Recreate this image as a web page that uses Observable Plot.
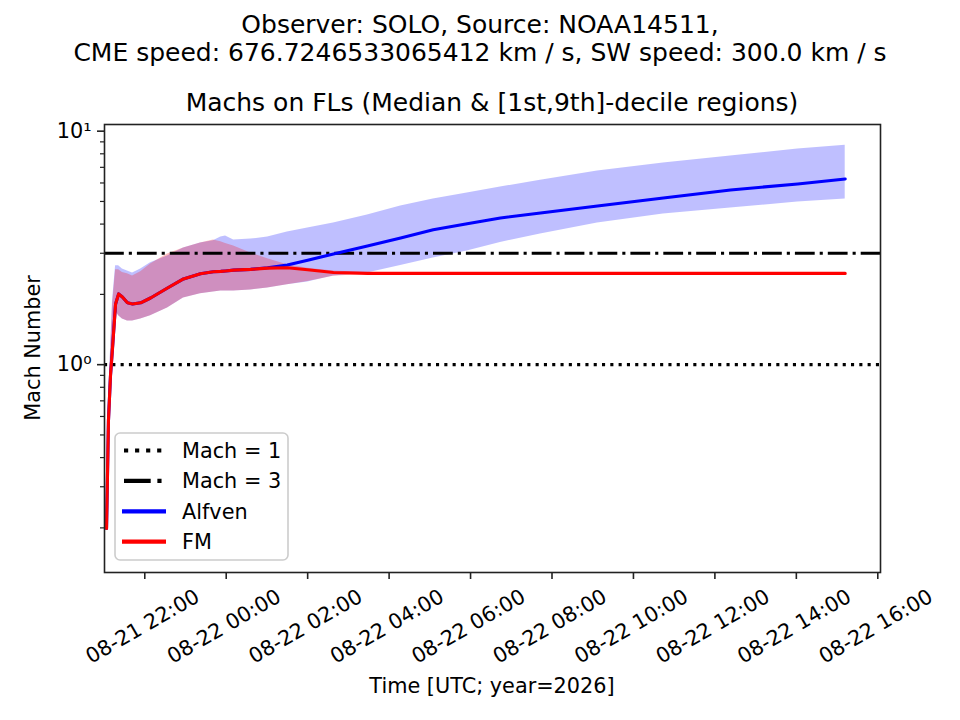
<!DOCTYPE html>
<html>
<head>
<meta charset="utf-8">
<script src="https://cdn.jsdelivr.net/npm/d3@7"></script>
<script src="https://cdn.jsdelivr.net/npm/@observablehq/plot@0.6"></script>
<style>
  html, body { margin: 0; padding: 0; background: #fff; }
  #wrap { width: 960px; height: 720px; position: relative; }
</style>
</head>
<body>
<div id="wrap"></div>
<script>
// ---- Data ----
const times = [
  "2026-08-21T21:03:40Z", "2026-08-21T21:06:30Z", "2026-08-21T21:09:30Z", "2026-08-21T21:12:30Z",
  "2026-08-21T21:17:00Z", "2026-08-21T21:21:30Z", "2026-08-21T21:27:00Z", "2026-08-21T21:34:30Z",
  "2026-08-21T21:42:00Z", "2026-08-21T21:54:00Z", "2026-08-21T22:08:30Z", "2026-08-21T22:33:30Z",
  "2026-08-21T22:57:00Z", "2026-08-21T23:22:00Z", "2026-08-21T23:41:00Z", "2026-08-21T23:52:00Z",
  "2026-08-21T23:59:00Z", "2026-08-22T00:11:00Z", "2026-08-22T00:36:00Z", "2026-08-22T01:01:00Z",
  "2026-08-22T01:30:00Z", "2026-08-22T02:00:00Z", "2026-08-22T02:38:00Z", "2026-08-22T03:28:00Z",
  "2026-08-22T04:17:00Z", "2026-08-22T05:05:00Z", "2026-08-22T05:55:00Z", "2026-08-22T06:44:00Z",
  "2026-08-22T07:43:00Z", "2026-08-22T09:07:00Z", "2026-08-22T10:44:00Z", "2026-08-22T12:23:00Z",
  "2026-08-22T14:02:00Z", "2026-08-22T15:12:00Z"
];
const alfvenMedian = [
  0.199, 0.576, 0.897, 1.18, 1.82, 2.01, 1.95, 1.84, 1.82, 1.84, 1.93, 2.13,
  2.33, 2.45, 2.50, 2.51, 2.52, 2.54, 2.56, 2.60, 2.67, 2.80, 2.98, 3.22,
  3.49, 3.78, 4.01, 4.25, 4.46, 4.78, 5.17, 5.60, 5.94, 6.24
];
const alfvenLow = [
  0.19, 0.497, 0.74, 1.04, 1.70, 1.62, 1.57, 1.54, 1.54, 1.57, 1.62, 1.75,
  1.93, 2.01, 2.05, 2.07, 2.07, 2.07, 2.09, 2.13, 2.20, 2.26, 2.40, 2.47,
  2.66, 2.86, 3.07, 3.34, 3.63, 4.04, 4.42, 4.69, 4.97, 5.12
];
const alfvenHigh = [
  0.21, 0.668, 1.15, 1.88, 2.65, 2.65, 2.57, 2.52, 2.47, 2.57, 2.73, 2.92,
  3.16, 3.32, 3.39, 3.52, 3.56, 3.42, 3.45, 3.52, 3.70, 3.85, 4.04, 4.37,
  4.78, 5.12, 5.43, 5.76, 6.17, 6.75, 7.30, 7.82, 8.38, 8.71
];
const fmMedian = [
  0.199, 0.576, 0.897, 1.18, 1.82, 2.01, 1.95, 1.84, 1.82, 1.84, 1.93, 2.13,
  2.33, 2.45, 2.50, 2.51, 2.52, 2.54, 2.56, 2.59, 2.60, 2.55, 2.48, 2.46,
  2.46, 2.46, 2.46, 2.46, 2.46, 2.46, 2.46, 2.46, 2.46, 2.46
];
const fmLow = [
  0.19, 0.497, 0.74, 1.04, 1.70, 1.62, 1.57, 1.54, 1.54, 1.57, 1.62, 1.75,
  1.93, 2.01, 2.05, 2.07, 2.07, 2.07, 2.09, 2.13, 2.20, 2.27, 2.39, 2.44,
  2.44, 2.44, 2.44, 2.44, 2.44, 2.44, 2.44, 2.44, 2.44, 2.44
];
const fmHigh = [
  0.205, 0.65, 1.12, 1.80, 2.55, 2.55, 2.48, 2.45, 2.40, 2.50, 2.70, 2.98,
  3.16, 3.32, 3.42, 3.36, 3.30, 3.22, 3.01, 2.84, 2.68, 2.59, 2.52, 2.48,
  2.48, 2.48, 2.48, 2.48, 2.48, 2.48, 2.48, 2.48, 2.48, 2.48
];
const machLevels = [1, 3];
const xTickTimes = [
  "2026-08-21T22:00Z", "2026-08-22T00:00Z", "2026-08-22T02:00Z", "2026-08-22T04:00Z",
  "2026-08-22T06:00Z", "2026-08-22T08:00Z", "2026-08-22T10:00Z", "2026-08-22T12:00Z",
  "2026-08-22T14:00Z", "2026-08-22T16:00Z"
];
const yMajorTicks = [1, 10];
const yMajorLabels = ["10\u2070", "10\u00B9"];
const yMinorTicks = [0.2, 0.3, 0.4, 0.5, 0.6, 0.7, 0.8, 0.9, 2, 3, 4, 5, 6, 7, 8, 9];
const titleLines = [
  "Observer: SOLO, Source: NOAA14511,",
  "CME speed: 676.7246533065412 km / s, SW speed: 300.0 km / s"
];
const subTitle = "Machs on FLs (Median & [1st,9th]-decile regions)";
const xLabel = "Time [UTC; year=2026]";
const yLabel = "Mach Number";
const legendItems = [
  {label: "Mach = 1", kind: "dot"},
  {label: "Mach = 3", kind: "dashdot"},
  {label: "Alfven", kind: "blue"},
  {label: "FM", kind: "red"}
];

// ---- Build table ----
const rows = times.map((t, i) => ({
  t: new Date(t),
  am: alfvenMedian[i], al: alfvenLow[i], ah: alfvenHigh[i],
  fm: fmMedian[i], fl: fmLow[i], fh: fmHigh[i]
}));
const xTicks = xTickTimes.map(s => new Date(s));
const fmt = d3.utcFormat("%m-%d %H:%M");
const LW = 3.1;
const FS = 20.8;
const dotDash = "3.1,5.2";
const dashDot = "19.8,5,3.1,5";
const LLW = 4.17;
const legDot = "4.17,6.88";
const legDashDot = "26.7,6.67,4.17,6.67";

const plot = Plot.plot({
  width: 960,
  height: 720,
  marginLeft: 104,
  marginRight: 80,
  marginTop: 124,
  marginBottom: 148,
  style: {fontFamily: "DejaVu Sans", fontSize: FS + "px", background: "white", color: "black", overflow: "visible"},
  x: {type: "utc", domain: [new Date("2026-08-21T21:00:40Z"), new Date("2026-08-22T16:04:00Z")]},
  y: {type: "log", domain: [0.1288, 10.68]},
  marks: [
    Plot.areaY(rows, {x: "t", y1: "al", y2: "ah", fill: "blue", fillOpacity: 0.25}),
    Plot.areaY(rows, {x: "t", y1: "fl", y2: "fh", fill: "red", fillOpacity: 0.25}),
    Plot.ruleY([machLevels[0]], {stroke: "black", strokeWidth: LW, strokeDasharray: dotDash}),
    Plot.ruleY([machLevels[1]], {stroke: "black", strokeWidth: LW, strokeDasharray: dashDot}),
    Plot.lineY(rows, {x: "t", y: "am", stroke: "blue", strokeWidth: LW}),
    Plot.lineY(rows, {x: "t", y: "fm", stroke: "red", strokeWidth: LW}),
    Plot.frame({stroke: "#222", strokeWidth: 1.6}),
    Plot.axisY(yMajorTicks, {tickSize: 7, tickPadding: 6, stroke: "#222", strokeWidth: 1.6,
      tickFormat: d => yMajorLabels[yMajorTicks.indexOf(d)], fontSize: FS, label: null}),
    Plot.axisY(yMinorTicks, {tickSize: 4, stroke: "#222", strokeWidth: 1.2, tickFormat: () => "", label: null}),
    Plot.axisX(xTicks, {tickSize: 7, stroke: "#222", strokeWidth: 1.6, tickFormat: () => "", label: null}),
    Plot.text(xTicks, {x: d => d, frameAnchor: "bottom", dy: 54, dx: -2, rotate: -30,
      text: d => fmt(d), textAnchor: "middle", lineAnchor: "middle", fontSize: FS, fill: "black"})
  ]
});

document.getElementById("wrap").appendChild(plot);

// ---- Titles, axis labels and legend added to the SVG ----
const svg = d3.select(plot);
const ff = "DejaVu Sans";
svg.append("text").attr("x", 480).attr("y", 33).attr("text-anchor", "middle")
  .attr("font-family", ff).attr("font-size", 25).attr("fill", "black").text(titleLines[0]);
svg.append("text").attr("x", 480).attr("y", 61).attr("text-anchor", "middle")
  .attr("font-family", ff).attr("font-size", 25).attr("fill", "black").text(titleLines[1]);
svg.append("text").attr("x", 492).attr("y", 111).attr("text-anchor", "middle")
  .attr("font-family", ff).attr("font-size", 25).attr("fill", "black").text(subTitle);
svg.append("text").attr("x", 492).attr("y", 693).attr("text-anchor", "middle")
  .attr("font-family", ff).attr("font-size", FS).attr("fill", "black").text(xLabel);
svg.append("text").attr("transform", "translate(40,348) rotate(-90)").attr("text-anchor", "middle")
  .attr("font-family", ff).attr("font-size", FS).attr("fill", "black").text(yLabel);

const lg = svg.append("g").attr("transform", "translate(115,433)");
lg.append("rect").attr("x", 0).attr("y", 0).attr("width", 173).attr("height", 127).attr("rx", 5)
  .attr("fill", "white").attr("fill-opacity", 0.8).attr("stroke", "#cccccc").attr("stroke-width", 1.6);
legendItems.forEach((it, i) => {
  const y = 17.5 + i * 30.4;
  const ln = lg.append("line").attr("x1", 7).attr("x2", 51).attr("y1", y).attr("y2", y)
    .attr("stroke-width", LLW);
  if (it.kind === "dot") ln.attr("stroke", "black").attr("stroke-dasharray", legDot).attr("x1", 9);
  else if (it.kind === "dashdot") ln.attr("stroke", "black").attr("stroke-dasharray", legDashDot).attr("x1", 9);
  else ln.attr("stroke", it.kind);
  lg.append("text").attr("x", 67).attr("y", y + 7.5).attr("text-anchor", "start")
    .attr("font-family", ff).attr("font-size", FS).attr("fill", "black").text(it.label);
});
</script>
</body>
</html>
